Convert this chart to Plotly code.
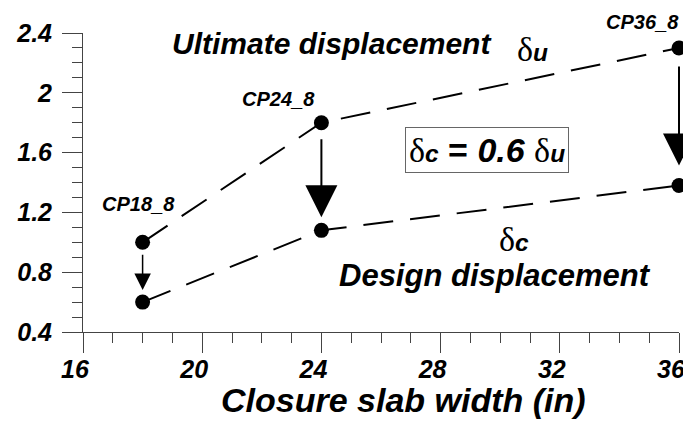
import plotly.graph_objects as go

# Data
widths = [18, 24, 36]
ultimate = [1.0, 1.8, 2.3]
design = [0.6, 1.08, 1.38]
specimens = ["CP18_8", "CP24_8", "CP36_8"]
x_ticks = [16, 20, 24, 28, 32, 36]
x_tick_text = ["16", "20", "24", "28", "32", "36"]
y_ticks = [0.4, 0.8, 1.2, 1.6, 2.0, 2.4]
y_tick_text = ["0.4", "0.8", "1.2", "1.6", "2", "2.4"]

FONT = "Liberation Sans, Arial, sans-serif"
SERIF = "Liberation Serif, Times New Roman, serif"

fig = go.Figure()
for ys in (ultimate, design):
    fig.add_trace(go.Scatter(
        x=widths, y=ys, mode="lines+markers",
        line=dict(color="black", width=2, dash="30px,17px"),
        marker=dict(color="black", size=15),
        cliponaxis=False, showlegend=False, hoverinfo="skip"))

# arrows from ultimate to design
arrow_cfg = [
    dict(aw=1.5, asz=2.2, ss=11, so=12),
    dict(aw=2, asz=3.2, ss=15, so=13),
    dict(aw=2, asz=3.2, ss=17, so=20),
]
for xw, yu, yd, c in zip(widths, ultimate, design, arrow_cfg):
    fig.add_annotation(x=xw, y=yd, ax=xw, ay=yu, xref="x", yref="y",
                       axref="x", ayref="y", text="", showarrow=True,
                       arrowhead=2, arrowwidth=c["aw"], arrowsize=c["asz"],
                       arrowcolor="black", standoff=c["so"], startstandoff=c["ss"])

# specimen labels; the last one sits above the axes, so it uses paper y
label_pos = [(17.85, 1.256, "y"), (22.55, 1.96, "y"), (34.76, 1.08, "paper")]
for name, (lx, ly, yr) in zip(specimens, label_pos):
    fig.add_annotation(x=lx, y=ly, xref="x", yref=yr, text=f"<b><i>{name}</i></b>",
                       showarrow=False, font=dict(family=FONT, size=20, color="black"))

def delta(sub):
    return (f"<span style='font-family:{SERIF}'>δ</span>"
            f"<span style='font-size:0.72em'><b><i>{sub}</i></b></span>")

fig.add_annotation(x=24.36, y=2.33, xref="x", yref="y",
                   text="<b><i>Ultimate displacement</i></b>", showarrow=False,
                   font=dict(family=FONT, size=30, color="black"))
fig.add_annotation(x=31.1, y=2.29, xref="x", yref="y", text=delta("u"), showarrow=False,
                   font=dict(family=FONT, size=34, color="black"))
fig.add_annotation(x=29.83, y=0.78, xref="x", yref="y",
                   text="<b><i>Design displacement</i></b>", showarrow=False,
                   font=dict(family=FONT, size=31, color="black"))
fig.add_annotation(x=30.45, y=1.02, xref="x", yref="y", text=delta("c"), showarrow=False,
                   font=dict(family=FONT, size=34, color="black"))
fig.add_annotation(x=29.57, y=1.62, xref="x", yref="y",
                   text=delta("c") + "<b> = <i>0.6</i></b> " + delta("u"),
                   showarrow=False, bordercolor="#666666", borderwidth=1, borderpad=3,
                   font=dict(family=FONT, size=34, color="black"))
# axis title (centred like the reference, slightly right of the plot centre)
fig.add_annotation(x=0.537, y=-0.227, xref="paper", yref="paper",
                   text="<b><i>Closure slab width (in)</i></b>", showarrow=False,
                   yanchor="middle", font=dict(family=FONT, size=34, color="black"))

axis_common = dict(showgrid=False, zeroline=False, showline=True, linecolor="#444444",
                   linewidth=1, ticks="outside", tickcolor="#444444", tickwidth=1,
                   automargin=False, tickfont=dict(family=FONT, size=25, color="black"))
fig.update_xaxes(range=[16, 36], tickvals=x_ticks,
                 ticktext=[f"<b><i>{t}</i></b>" for t in x_tick_text], ticklen=20,
                 ticklabelstandoff=-5, ticklabelshift=-8,
                 minor=dict(dtick=1, ticks="outside", ticklen=10, tickcolor="#444444"),
                 **axis_common)
fig.update_yaxes(range=[0.4, 2.4], tickvals=y_ticks,
                 ticktext=[f"<b><i>{t}</i></b>" for t in y_tick_text], ticklen=20,
                 ticklabelstandoff=5,
                 minor=dict(dtick=0.1, ticks="outside", ticklen=10, tickcolor="#444444"),
                 **axis_common)
# page body adds an 8px offset; compensate so the plot area sits where the reference has it
fig.update_layout(width=691, height=418, margin=dict(l=75, r=20, t=25, b=94),
                  plot_bgcolor="white", paper_bgcolor="white",
                  font=dict(family=FONT))
fig.write_html("out.html")
